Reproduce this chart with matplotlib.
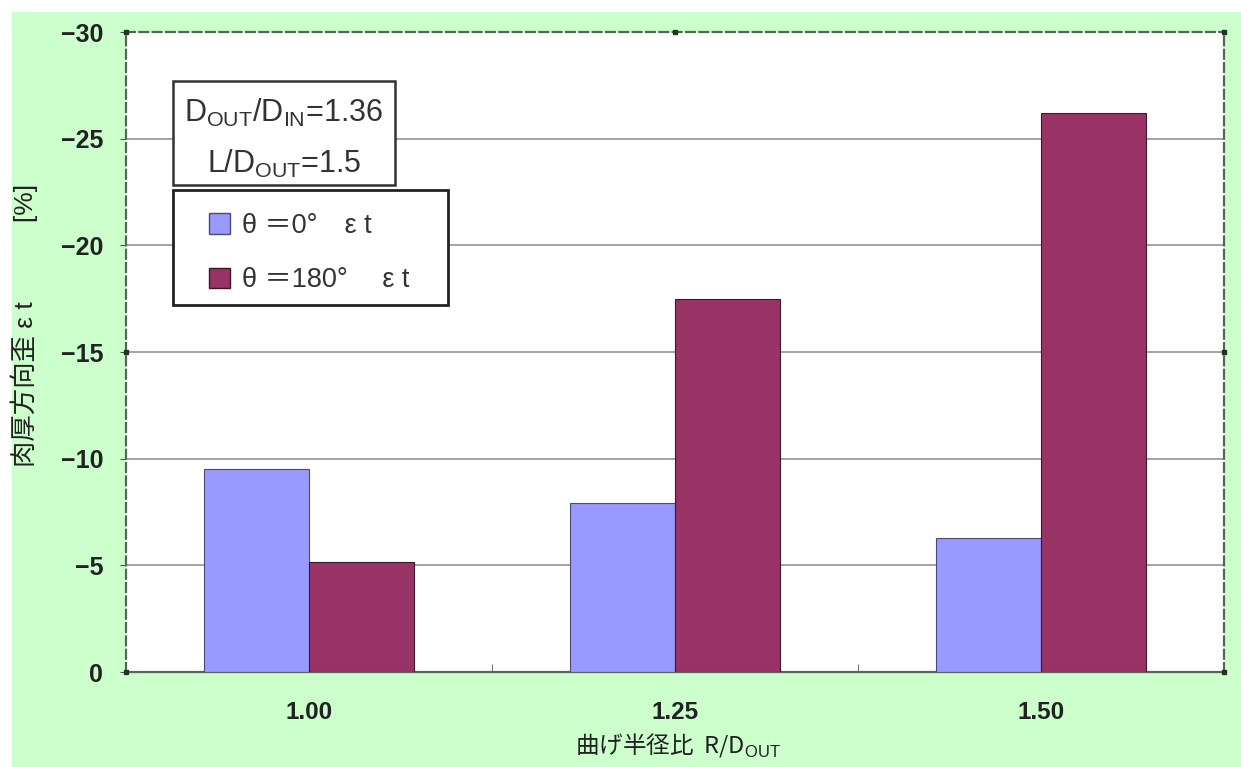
import matplotlib
matplotlib.use("Agg")
import matplotlib.pyplot as plt
from matplotlib.patches import Rectangle, Patch

plt.rcParams['font.family'] = ['Liberation Sans', 'Noto Sans CJK JP', 'DejaVu Sans']
plt.rcParams['mathtext.fontset'] = 'custom'
plt.rcParams['mathtext.rm'] = 'Liberation Sans'

# data
categories = ["1.00", "1.25", "1.50"]
strain_0deg = [-9.5, -7.9, -6.3]
strain_180deg = [-5.15, -17.5, -26.2]
series_labels = ["θ ＝0°　ε t", "θ ＝180°　 ε t"]
y_ticks = [0, -5, -10, -15, -20, -25, -30]
x_title = "曲げ半径比  R/D$_{\\mathrm{OUT}}$"
y_title = "肉厚方向歪 ε t　　　[%]"

W, H = 1241, 767
fig = plt.figure(figsize=(W / 100, H / 100), dpi=100, facecolor="white")

def fx(px):
    return px / W

def fy(py):
    return 1 - py / H

# green chart-area background
fig.patches.append(Rectangle((fx(12), 0), 1, fy(12), transform=fig.transFigure,
                             facecolor="#CCFFCC", edgecolor="none", zorder=-5))

ax_l, ax_r, ax_t, ax_b = 126, 1224, 32, 672
ax = fig.add_axes([fx(ax_l), fy(ax_b), fx(ax_r) - fx(ax_l), fy(ax_t) - fy(ax_b)])
ax.set_facecolor("white")

def ax_xfrac(px):
    return (px - ax_l) / (ax_r - ax_l)

def ax_yfrac(py):
    return (ax_b - py) / (ax_b - ax_t)

x = list(range(len(categories)))
bw = 0.287
ax.bar([i - bw / 2 for i in x], strain_0deg, width=bw, color="#9999FF",
       edgecolor="#4a4a7a", linewidth=0.8, zorder=3, label=series_labels[0])
ax.bar([i + bw / 2 for i in x], strain_180deg, width=bw, color="#993366",
       edgecolor="#3a1a2a", linewidth=0.8, zorder=3, label=series_labels[1])

ax.set_xlim(-0.5, len(categories) - 0.5)
ax.set_ylim(0, -30)
ax.set_yticks(y_ticks)
ax.set_yticklabels([f"{t:d}".replace("-", "−") for t in y_ticks],
                   fontsize=18, fontweight="bold", color="#222222")
for t in y_ticks[1:-1]:
    ax.axhline(t, color="#8a8a8a", linewidth=1.1, zorder=1)

ax.set_xticks(x)
ax.set_xticklabels(categories, fontsize=17.5, fontweight="bold", color="#222222")
ax.set_xticks([0.5, 1.5], minor=True)
ax.tick_params(axis="x", which="major", length=0, pad=21)
ax.tick_params(axis="x", which="minor", direction="in", length=6, color="#555555")
ax.tick_params(axis="y", which="major", direction="out", length=4, color="#555555", pad=12.5)

for side in ["left", "top", "right"]:
    ax.spines[side].set_linestyle((0, (4, 2)))
    ax.spines[side].set_color("#556655")
    ax.spines[side].set_linewidth(1.6)
ax.spines["bottom"].set_color("#556655")
ax.spines["bottom"].set_linewidth(1.6)

# handles on the plot-area frame
hx = [0, 0.5, 1, 1, 1, 0, 0]
hy = [1, 1, 1, 0.5, 0, 0, 0.5]
ax.plot(hx, hy, linestyle="none", marker="s", markersize=3.5, color="#223322",
        transform=ax.transAxes, clip_on=False, zorder=5)

ax.set_xlabel(x_title, fontsize=17, color="#222222", va="center",
              family=["Noto Sans CJK JP", "Liberation Sans"])
ax.xaxis.set_label_coords(ax_xfrac(678), ax_yfrac(745))
ax.set_ylabel(y_title, fontsize=19, color="#222222", va="center",
              family=["Liberation Sans", "Noto Sans CJK JP"])
ax.yaxis.set_label_coords(ax_xfrac(24), ax_yfrac(325))

# parameter box
fig.patches.append(Rectangle((fx(173), fy(185)), fx(395) - fx(173), fy(81) - fy(185),
                             transform=fig.transFigure, facecolor="white",
                             edgecolor="#333333", linewidth=1.8, zorder=4))
fig.text(fx(284), fy(122), "D$_{\\mathrm{OUT}}$/D$_{\\mathrm{IN}}$=1.36", ha="center",
         va="baseline", fontsize=22, color="#333333", zorder=5)
fig.text(fx(284), fy(173), "L/D$_{\\mathrm{OUT}}$=1.5", ha="center", va="baseline",
         fontsize=22, color="#333333", zorder=5)

# legend frame and entries
fig.patches.append(Rectangle((fx(173), fy(305)), fx(448) - fx(173), fy(190) - fy(305),
                             transform=fig.transFigure, facecolor="white",
                             edgecolor="#222222", linewidth=2.0, zorder=4))
handles = [Patch(facecolor="#9999FF", edgecolor="#4a4a7a"),
           Patch(facecolor="#993366", edgecolor="#3a1a2a")]
leg = fig.legend(handles, series_labels, loc="upper left",
                 bbox_to_anchor=(fx(209), fy(213)), bbox_transform=fig.transFigure,
                 frameon=False, borderaxespad=0, borderpad=0,
                 handlelength=0.78, handleheight=0.78, handletextpad=0.42,
                 labelspacing=1.05,
                 prop={"family": ["Liberation Sans", "Noto Sans CJK JP"], "size": 19.5})
for t in leg.get_texts():
    t.set_color("#333333")
leg.set_zorder(6)

fig.savefig("out.png", dpi=100, facecolor=fig.get_facecolor())
